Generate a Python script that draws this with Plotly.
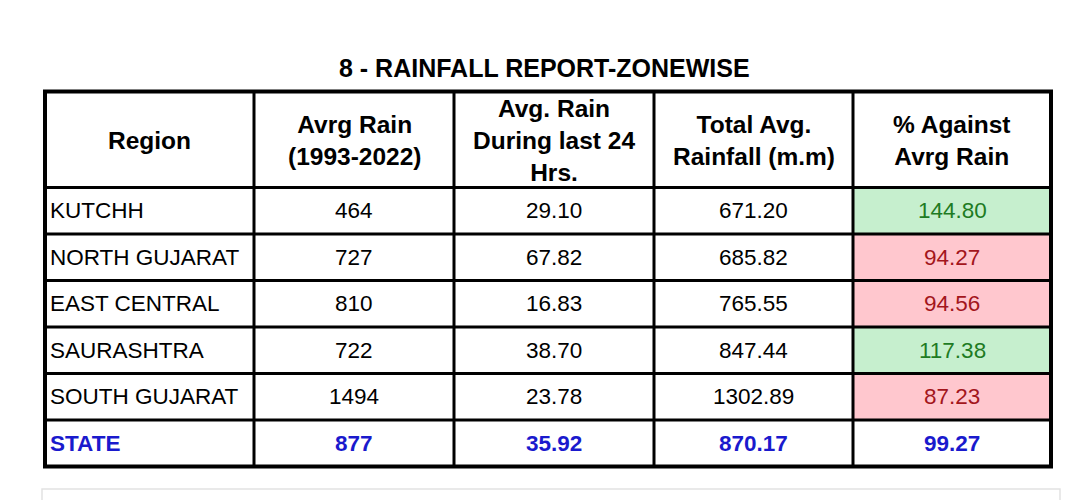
import plotly.graph_objects as go

title = "8 - RAINFALL REPORT-ZONEWISE"
headers = [
    "Region",
    "Avrg Rain<br>(1993-2022)",
    "Avg. Rain<br>During last 24<br>Hrs.",
    "Total Avg.<br>Rainfall (m.m)",
    "% Against<br>Avrg Rain",
]
regions = ["KUTCHH", "NORTH GUJARAT", "EAST CENTRAL", "SAURASHTRA", "SOUTH GUJARAT", "STATE"]
avg_rain = [464, 727, 810, 722, 1494, 877]
rain_24h = [29.10, 67.82, 16.83, 38.70, 23.78, 35.92]
total_avg = [671.20, 685.82, 765.55, 847.44, 1302.89, 870.17]
pct_against = [144.80, 94.27, 94.56, 117.38, 87.23, 99.27]

# layout in pixels
col_edges = [45, 254, 454, 654, 853, 1051]
header_top = 91.5
header_bottom = 187.5
row_h = 46.5

FONT = "Liberation Sans, Arial, sans-serif"
GOOD_FILL, GOOD_TEXT = "#c6efce", "#1e7b23"
BAD_FILL, BAD_TEXT = "#ffc7ce", "#a3161c"
TOTAL_TEXT = "#1a1acd"

fig = go.Figure()
shapes = []
annotations = []

n_rows = len(regions)
row_edges = [header_bottom + i * row_h for i in range(n_rows + 1)]
table_bottom = row_edges[-1]

# conditional fills for % column (not for the state total row)
for i, p in enumerate(pct_against):
    if regions[i] == "STATE":
        continue
    fill = GOOD_FILL if p >= 100 else BAD_FILL
    shapes.append(dict(type="rect", layer="below", x0=col_edges[4], x1=col_edges[5],
                       y0=row_edges[i], y1=row_edges[i + 1], fillcolor=fill, line_width=0))

# grid lines
for x in col_edges[1:-1]:
    shapes.append(dict(type="line", x0=x, x1=x, y0=header_top, y1=table_bottom,
                       line=dict(color="black", width=3)))
for y in row_edges[:-1]:
    shapes.append(dict(type="line", x0=col_edges[0], x1=col_edges[-1], y0=y, y1=y,
                       line=dict(color="black", width=3)))
shapes.append(dict(type="rect", x0=col_edges[0], x1=col_edges[-1], y0=header_top, y1=table_bottom,
                   line=dict(color="black", width=4)))

# faint box below the table
shapes.append(dict(type="rect", x0=42, x1=1060, y0=489, y1=520, fillcolor="white",
                   line=dict(color="#e2e2e2", width=1.5)))

# title
annotations.append(dict(x=544, y=68, text="<b>%s</b>" % title, showarrow=False,
                        font=dict(family=FONT, size=25, color="black")))

# header cells
for j, h in enumerate(headers):
    annotations.append(dict(x=(col_edges[j] + col_edges[j + 1]) / 2, y=(header_top + header_bottom) / 2 + 1,
                            text="<b>%s</b>" % h, showarrow=False,
                            font=dict(family=FONT, size=24.5, color="black")))

# body cells
for i in range(n_rows):
    yc = (row_edges[i] + row_edges[i + 1]) / 2
    is_total = regions[i] == "STATE"
    cells = [regions[i], "%d" % avg_rain[i], "%.2f" % rain_24h[i],
             "%.2f" % total_avg[i], "%.2f" % pct_against[i]]
    for j, txt in enumerate(cells):
        color = "black"
        if is_total:
            color = TOTAL_TEXT
        elif j == 4:
            color = GOOD_TEXT if pct_against[i] >= 100 else BAD_TEXT
        if is_total:
            txt = "<b>%s</b>" % txt
        if j == 0:
            annotations.append(dict(x=col_edges[0] + 3, y=yc, text=txt, xanchor="left",
                                    showarrow=False, font=dict(family=FONT, size=22.5, color=color)))
        else:
            annotations.append(dict(x=(col_edges[j] + col_edges[j + 1]) / 2, y=yc, text=txt,
                                    showarrow=False, font=dict(family=FONT, size=22.5, color=color)))

fig.update_layout(
    width=1080,
    height=500,
    margin=dict(l=0, r=0, t=0, b=0),
    paper_bgcolor="white",
    plot_bgcolor="white",
    shapes=shapes,
    annotations=annotations,
    showlegend=False,
)
fig.update_xaxes(range=[0, 1080], visible=False, fixedrange=True)
fig.update_yaxes(range=[500, 0], visible=False, fixedrange=True)

fig.write_html("out.html", config={"displayModeBar": False},
               post_script="document.body.style.margin='0';")
